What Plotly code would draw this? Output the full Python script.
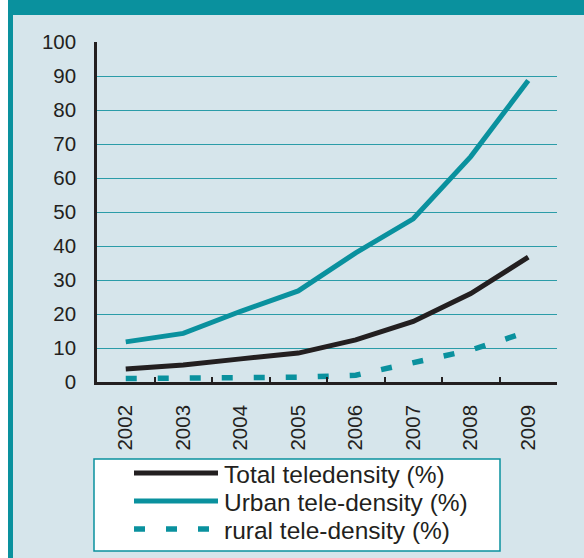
import plotly.graph_objects as go

years = ["2002", "2003", "2004", "2005", "2006", "2007", "2008", "2009"]
total = [3.8, 5.0, 6.8, 8.5, 12.4, 17.8, 26.0, 36.7]
urban = [11.8, 14.3, 20.8, 26.8, 38.0, 48.0, 66.3, 88.7]
rural = [1.0, 1.1, 1.3, 1.4, 2.0, 5.9, 9.4, 14.8]
names = ["Total teledensity (%)", "Urban tele-density (%)", "rural tele-density (%)"]

TEAL = "#0a919e"
GRID = "#2b9ca8"
BLACK = "#231f20"
BG = "#d6e5eb"
FONT = "Liberation Sans, Arial, sans-serif"

W, H = 584, 558
L, R, T, B = 97, 27, 42, 176
PW, PH = W - L - R, H - T - B

def px(x):
    return (x - L) / PW

def py(y):
    return (H - B - y) / PH

fig = go.Figure()
fig.add_trace(go.Scatter(x=years, y=total, mode="lines", name=names[0],
                         line=dict(color=BLACK, width=5)))
fig.add_trace(go.Scatter(x=years, y=urban, mode="lines", name=names[1],
                         line=dict(color=TEAL, width=5)))
fig.add_trace(go.Scatter(x=years, y=rural, mode="lines", name=names[2],
                         line=dict(color=TEAL, width=5.5, dash="11px,21px")))

shapes = [
    dict(type="rect", xref="paper", yref="paper", x0=px(8), x1=px(590), y0=py(-5), y1=py(565),
         fillcolor=TEAL, line=dict(width=0), layer="below"),
    dict(type="rect", xref="paper", yref="paper", x0=px(13), x1=px(590), y0=py(15), y1=py(565),
         fillcolor=BG, line=dict(width=0), layer="below"),
    # legend box
    dict(type="rect", xref="paper", yref="paper", x0=px(94), x1=px(500), y0=py(459), y1=py(551),
         fillcolor="white", line=dict(color=TEAL, width=1.5), layer="below"),
]
annotations = []
rows = [473, 501, 529]
styles = [dict(color=BLACK, width=5), dict(color=TEAL, width=5),
          dict(color=TEAL, width=5.5, dash="11px,21px")]
for i, (yy, st, nm) in enumerate(zip(rows, styles, names)):
    shapes.append(dict(type="line", xref="paper", yref="paper", x0=px(134), x1=px(218),
                       y0=py(yy), y1=py(yy), line=st))
    annotations.append(dict(xref="paper", yref="paper", x=px(222), y=py(yy + 1), text=nm,
                            showarrow=False, xanchor="left", yanchor="middle",
                            font=dict(size=24.5, color=BLACK, family=FONT)))

fig.update_layout(
    width=W, height=H,
    margin=dict(l=L, r=R, t=T, b=B),
    paper_bgcolor="white", plot_bgcolor="rgba(0,0,0,0)",
    showlegend=False,
    font=dict(family=FONT, color=BLACK, size=20),
    shapes=shapes, annotations=annotations,
    xaxis=dict(type="category", range=[-0.5, 7.5], showline=True, linecolor=BLACK, linewidth=2.5,
               ticks="inside", ticklen=5, tickwidth=2, tickcolor=BLACK, tickson="boundaries",
               tickangle=-90, showgrid=False, tickfont=dict(size=20.5), ticklabelstandoff=12),
    yaxis=dict(range=[0, 100], dtick=10, showline=True, linecolor=BLACK, linewidth=2.5,
               ticks="", showgrid=True, gridcolor=GRID, gridwidth=1.3, zeroline=False,
               tickfont=dict(size=20.5), ticklabelstandoff=14),
)

fig.write_html("out.html", post_script="document.body.style.margin='0';",
               config={"displayModeBar": False})
